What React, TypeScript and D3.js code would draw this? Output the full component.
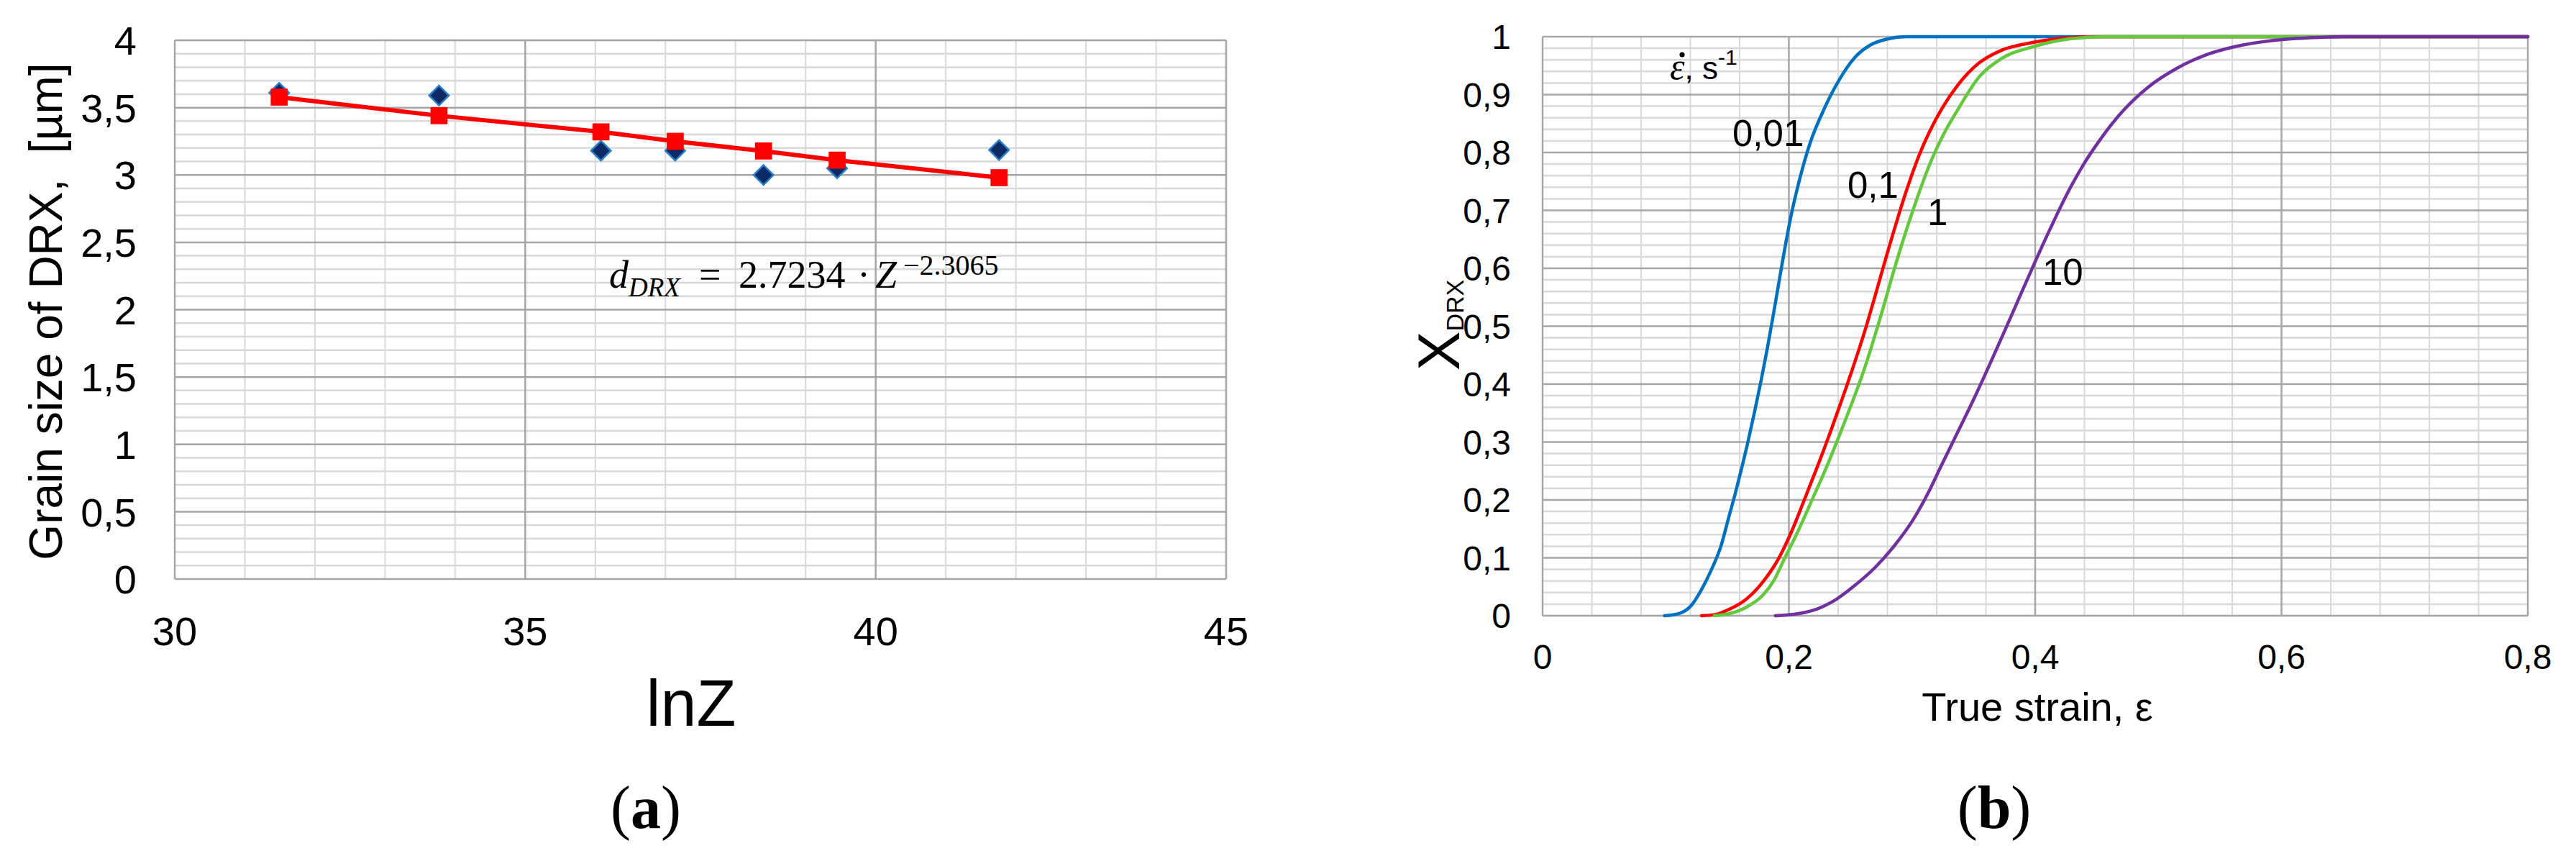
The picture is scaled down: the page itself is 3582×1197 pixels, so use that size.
import React from 'react';
import * as d3 from 'd3';

// ---------- Panel (a): grain size vs lnZ ----------
const lnZ = [31.49, 33.77, 36.08, 37.14, 38.4, 39.45, 41.76];
const grainMeasured = [3.61, 3.59, 3.18, 3.18, 3.0, 3.05, 3.185];
const grainFitted = [3.578, 3.44, 3.32, 3.25, 3.178, 3.11, 2.98];
const aXTicks = [30, 35, 40, 45];
const aYTicks = [0, 0.5, 1, 1.5, 2, 2.5, 3, 3.5, 4];

// ---------- Panel (b): X_DRX vs true strain ----------
const rateLabels = ['0,01', '0,1', '1', '10'];
const strain001 = [0.099, 0.111, 0.12, 0.129, 0.137, 0.1448, 0.1513, 0.1567, 0.1618, 0.1664, 0.172, 0.1777, 0.1826, 0.1878, 0.1928, 0.1965, 0.2017, 0.2085, 0.217, 0.229, 0.241, 0.2535, 0.2665, 0.28, 0.295, 0.8];
const xdrx001 = [0, 0.004, 0.016, 0.045, 0.079, 0.12, 0.171, 0.213, 0.256, 0.297, 0.351, 0.409, 0.463, 0.525, 0.587, 0.632, 0.69, 0.752, 0.815, 0.877, 0.926, 0.964, 0.986, 0.996, 1, 1];
const strain01 = [0.129, 0.14, 0.1525, 0.1656, 0.1787, 0.1917, 0.2021, 0.2125, 0.2232, 0.235, 0.2442, 0.2535, 0.2617, 0.2702, 0.2774, 0.2836, 0.2895, 0.297, 0.3055, 0.314, 0.324, 0.337, 0.354, 0.372, 0.398, 0.428, 0.45, 0.8];
const xdrx01 = [0, 0.002, 0.012, 0.029, 0.058, 0.099, 0.145, 0.2, 0.258, 0.325, 0.38, 0.438, 0.492, 0.554, 0.6075, 0.653, 0.6945, 0.744, 0.794, 0.835, 0.875, 0.916, 0.954, 0.976, 0.99, 0.9985, 1, 1];
const strain1 = [0.1396, 0.1525, 0.1656, 0.1787, 0.1876, 0.1966, 0.2072, 0.2187, 0.231, 0.242, 0.2522, 0.2598, 0.268, 0.2762, 0.284, 0.291, 0.2985, 0.3066, 0.3155, 0.3255, 0.337, 0.3545, 0.372, 0.399, 0.428, 0.458, 0.8];
const xdrx1 = [0, 0.004, 0.015, 0.035, 0.06, 0.0993, 0.1451, 0.1995, 0.259, 0.317, 0.373, 0.417, 0.471, 0.529, 0.587, 0.6366, 0.686, 0.736, 0.7855, 0.831, 0.8735, 0.9306, 0.9614, 0.983, 0.9963, 1, 1];
const strain10 = [0.189, 0.2073, 0.223, 0.2386, 0.2543, 0.2698, 0.2855, 0.3011, 0.3142, 0.323, 0.3382, 0.3505, 0.363, 0.376, 0.388, 0.4, 0.4125, 0.4265, 0.439, 0.454, 0.472, 0.491, 0.5147, 0.5386, 0.5624, 0.592, 0.622, 0.65, 0.8];
const xdrx10 = [0, 0.0034, 0.0117, 0.0285, 0.0536, 0.0829, 0.1205, 0.1666, 0.2168, 0.2558, 0.322, 0.3758, 0.4337, 0.4958, 0.5538, 0.6117, 0.6697, 0.731, 0.7785, 0.826, 0.8735, 0.9116, 0.945, 0.9686, 0.983, 0.9933, 0.998, 1, 1];
const bXTicks = [0, 0.2, 0.4, 0.6, 0.8];
const bYTicks = [0, 0.1, 0.2, 0.3, 0.4, 0.5, 0.6, 0.7, 0.8, 0.9, 1];

const curveColors = ['#0070C0', '#FF0000', '#63C93C', '#7030A0'];
const SANS = '"Liberation Sans", Arial, sans-serif';
const SERIF = '"Liberation Serif", "Times New Roman", serif';
const MAJOR = '#a6a6a6';
const MINOR = '#d9d9d9';

const locale = d3.formatLocale({ decimal: ',', thousands: ' ', grouping: [3], currency: ['', ''] });
const fmt = locale.format('~g');

export default function App() {
  const ax = d3.scaleLinear().domain([30, 45]).range([243, 1705]);
  const ay = d3.scaleLinear().domain([0, 4]).range([805, 56]);
  const bx = d3.scaleLinear().domain([0, 0.8]).range([2145, 3515]);
  const by = d3.scaleLinear().domain([0, 1]).range([856, 51]);

  const aH = d3.range(0, 41).map((i) => ({ v: i / 10, major: i % 5 === 0 }));
  const aV = d3.range(30, 46).map((v) => ({ v, major: v % 5 === 0 }));
  const bH = d3.range(0, 51).map((i) => ({ v: i / 50, major: i % 5 === 0 }));
  const bV = d3.range(0, 21).map((i) => ({ v: i * 0.04, major: i % 5 === 0 }));

  const fitLine = d3.line<number>().x((_, i) => ax(lnZ[i])).y((d) => ay(d))(grainFitted) || '';
  const squarePath = d3.symbol().type(d3.symbolSquare).size(560)() || '';
  const diamondPath = d3.symbol().type(d3.symbolSquare).size(380)() || '';

  const series = [
    [strain001, xdrx001],
    [strain01, xdrx01],
    [strain1, xdrx1],
    [strain10, xdrx10],
  ];
  const lineGen = d3
    .line<[number, number]>()
    .x((d) => bx(d[0]))
    .y((d) => by(d[1]))
    .curve(d3.curveMonotoneX);

  return (
    <svg
      width={3582}
      height={1197}
      viewBox="0 0 3582 1197"
      style={{ position: 'absolute', left: 0, top: 0, display: 'block', background: '#fff' }}
    >
      <rect x={0} y={0} width={3582} height={1197} fill="#fff" />

      {/* ===== Panel (a) grid ===== */}
      <g>
        {aH.filter((d) => !d.major).map((d) => (
          <line key={'ahm' + d.v} x1={ax(30)} x2={ax(45)} y1={ay(d.v)} y2={ay(d.v)} stroke={MINOR} strokeWidth={2.5} />
        ))}
        {aV.filter((d) => !d.major).map((d) => (
          <line key={'avm' + d.v} x1={ax(d.v)} x2={ax(d.v)} y1={ay(0)} y2={ay(4)} stroke={MINOR} strokeWidth={2} />
        ))}
        {aH.filter((d) => d.major).map((d) => (
          <line key={'ahM' + d.v} x1={ax(30)} x2={ax(45)} y1={ay(d.v)} y2={ay(d.v)} stroke={MAJOR} strokeWidth={2.5} />
        ))}
        {aV.filter((d) => d.major).map((d) => (
          <line key={'avM' + d.v} x1={ax(d.v)} x2={ax(d.v)} y1={ay(0)} y2={ay(4)} stroke={MAJOR} strokeWidth={2.5} />
        ))}
      </g>

      {/* panel (a) data */}
      <g>
        {grainMeasured.map((v, i) => (
          <path
            key={'dm' + i}
            d={diamondPath}
            transform={`translate(${ax(lnZ[i])},${ay(v)}) rotate(45)`}
            fill="#0b2a66"
            stroke="#2a7fc9"
            strokeWidth={2.5}
          />
        ))}
        <path d={fitLine} fill="none" stroke="#FF0000" strokeWidth={6} />
        {grainFitted.map((v, i) => (
          <path key={'sq' + i} d={squarePath} transform={`translate(${ax(lnZ[i])},${ay(v)})`} fill="#FF0000" />
        ))}
      </g>

      {/* panel (a) ticks */}
      <g fontFamily={SANS} fontSize={56} fill="#000">
        {aYTicks.map((t) => (
          <text key={'ayt' + t} x={190} y={ay(t)} dy="0.36em" textAnchor="end">
            {fmt(t)}
          </text>
        ))}
        {aXTicks.map((t) => (
          <text key={'axt' + t} x={ax(t)} y={897} textAnchor="middle">
            {fmt(t)}
          </text>
        ))}
      </g>
      <text x={961} y={1009} textAnchor="middle" fontFamily={SANS} fontSize={90} fill="#000">
        lnZ
      </text>
      <text
        transform="translate(86,433) rotate(-90)"
        textAnchor="middle"
        fontFamily={SANS}
        fontSize={64}
        fill="#000"
        style={{ whiteSpace: 'pre' }}
      >
        {'Grain size of DRX,  [µm]'}
      </text>

      {/* equation */}
      <text fontFamily={SERIF} fill="#000">
        <tspan x={847} y={400} fontStyle="italic" fontSize={54}>d</tspan>
        <tspan x={874} y={412} fontStyle="italic" fontSize={37}>DRX</tspan>
        <tspan x={972} y={400} fontSize={54}>=</tspan>
        <tspan x={1027} y={400} fontSize={54}>2.7234</tspan>
        <tspan x={1192} y={400} fontSize={54}>·</tspan>
        <tspan x={1217} y={400} fontStyle="italic" fontSize={54}>Z</tspan>
        <tspan x={1256} y={382} fontSize={40}>−2.3065</tspan>
      </text>

      <text x={898} y={1151} textAnchor="middle" fontFamily={SERIF} fontSize={84} fill="#000">
        (<tspan fontWeight="bold">a</tspan>)
      </text>

      {/* ===== Panel (b) grid ===== */}
      <g>
        {bH.filter((d) => !d.major).map((d) => (
          <line key={'bhm' + d.v} x1={bx(0)} x2={bx(0.8)} y1={by(d.v)} y2={by(d.v)} stroke={MINOR} strokeWidth={2.5} />
        ))}
        {bV.filter((d) => !d.major).map((d) => (
          <line key={'bvm' + d.v} x1={bx(d.v)} x2={bx(d.v)} y1={by(0)} y2={by(1)} stroke={MINOR} strokeWidth={2} />
        ))}
        {bH.filter((d) => d.major).map((d) => (
          <line key={'bhM' + d.v} x1={bx(0)} x2={bx(0.8)} y1={by(d.v)} y2={by(d.v)} stroke={MAJOR} strokeWidth={2.5} />
        ))}
        {bV.filter((d) => d.major).map((d) => (
          <line key={'bvM' + d.v} x1={bx(d.v)} x2={bx(d.v)} y1={by(0)} y2={by(1)} stroke={MAJOR} strokeWidth={2.5} />
        ))}
      </g>

      {/* panel (b) curves */}
      <g fill="none">
        {series.map(([xs, ys], k) => (
          <path
            key={'c' + k}
            d={lineGen(xs.map((x, i) => [x, ys[i]] as [number, number])) || ''}
            stroke={curveColors[k]}
            strokeWidth={4.5}
            strokeLinejoin="round"
            strokeLinecap="round"
          />
        ))}
      </g>

      {/* panel (b) ticks */}
      <g fontFamily={SANS} fontSize={48} fill="#000">
        {bYTicks.map((t) => (
          <text key={'byt' + t} x={2101} y={by(t)} dy="0.36em" textAnchor="end">
            {fmt(t)}
          </text>
        ))}
        {bXTicks.map((t) => (
          <text key={'bxt' + t} x={bx(t)} y={930} textAnchor="middle">
            {fmt(t)}
          </text>
        ))}
      </g>
      <text x={2833} y={1002} textAnchor="middle" fontFamily={SANS} fontSize={56} fill="#000">
        True strain, ε
      </text>
      <text transform="translate(2029,452) rotate(-90)" textAnchor="middle" fontFamily={SANS} fill="#000">
        <tspan fontSize={82}>X</tspan>
        <tspan fontSize={34} dy={6}>DRX</tspan>
      </text>

      {/* strain-rate annotation: ε̇, s^-1 (dot over ε drawn as a small circle) */}
      <circle cx={2339} cy={76} r={3.6} fill="#000" />
      <text y={110} fill="#000" style={{ whiteSpace: 'pre' }}>
        <tspan x={2322} fontFamily={SERIF} fontStyle="italic" fontSize={52}>ε</tspan>
        <tspan fontFamily={SANS} fontSize={44}>{', s'}</tspan>
        <tspan dy={-20} fontFamily={SANS} fontSize={30}>-1</tspan>
      </text>
      <g fontFamily={SANS} fontSize={51} fill="#000">
        <text x={2409} y={203}>{rateLabels[0]}</text>
        <text x={2569} y={275}>{rateLabels[1]}</text>
        <text x={2680} y={313}>{rateLabels[2]}</text>
        <text x={2840} y={396}>{rateLabels[3]}</text>
      </g>

      <text x={2773} y={1151} textAnchor="middle" fontFamily={SERIF} fontSize={84} fill="#000">
        (<tspan fontWeight="bold">b</tspan>)
      </text>
    </svg>
  );
}
